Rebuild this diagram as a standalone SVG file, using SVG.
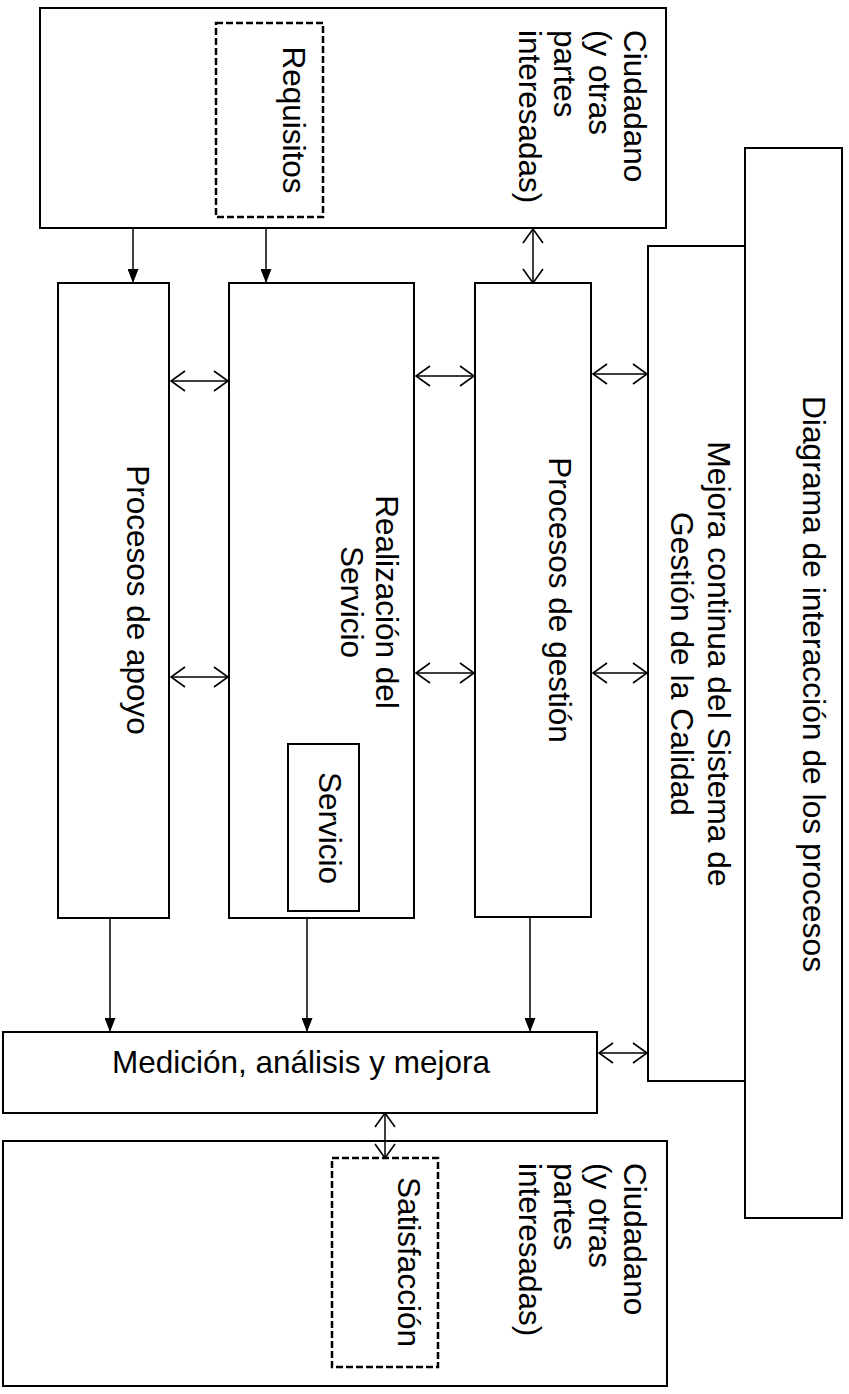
<svg xmlns="http://www.w3.org/2000/svg" width="849" height="1394" viewBox="0 0 849 1394">
  <style>
    .box { fill: #ffffff; stroke: #000000; stroke-width: 2; }
    .dash { fill: none; stroke: #000000; stroke-width: 2.5; stroke-dasharray: 7 3; }
    .lbl { font-family: "Liberation Sans", Arial, Helvetica, sans-serif; font-size: 31.5px; fill: #000000; }
    .big { font-size: 31.8px; }
    .mid { text-anchor: middle; }
    .conn { stroke: #000000; stroke-width: 1.5; fill: none; }
    .one { marker-end: url(#solid); }
    .two { marker-start: url(#open); marker-end: url(#open); }
  </style>
  <defs>
    <marker id="solid" viewBox="0 0 14 11" refX="14" refY="5.5" markerWidth="14" markerHeight="11" markerUnits="userSpaceOnUse" orient="auto">
      <path d="M0,0 L14,5.5 L0,11 Z" fill="#000000"/>
    </marker>
    <marker id="open" viewBox="-1 -1 17 22" refX="15" refY="10" markerWidth="17" markerHeight="22" markerUnits="userSpaceOnUse" orient="auto-start-reverse">
      <path d="M1,0 L15,10 L1,20" fill="none" stroke="#000000" stroke-width="1.6"/>
    </marker>
  </defs>
  <rect width="849" height="1394" fill="#ffffff"/>

  <g id="diagrama">
    <rect class="box" x="745" y="148" width="97" height="1070"/>
    <text class="lbl big mid" transform="translate(803,684) rotate(90)">Diagrama de interacción de los procesos</text>
  </g>

  <g id="mejora-continua">
    <rect class="box" x="648" y="246" width="97" height="835"/>
    <text class="lbl big mid" transform="translate(708,664) rotate(90)"><tspan x="0" dy="0">Mejora continua del Sistema de</tspan><tspan x="0" dy="37">Gestión de la Calidad</tspan></text>
  </g>

  <g id="ciudadano-top">
    <rect class="box" x="40" y="8" width="626" height="220"/>
    <text class="lbl" transform="translate(624,30) rotate(90)"><tspan x="0" dy="0">Ciudadano</tspan><tspan x="0" dy="35">(y otras</tspan><tspan x="0" dy="35">partes</tspan><tspan x="0" dy="35">interesadas)</tspan></text>
  </g>

  <g id="requisitos">
    <rect class="dash" x="216" y="23" width="107" height="194"/>
    <text class="lbl mid" transform="translate(283,120) rotate(90)">Requisitos</text>
  </g>

  <g id="procesos-apoyo">
    <rect class="box" x="58" y="283" width="111" height="635"/>
    <text class="lbl mid" transform="translate(127,600) rotate(90)">Procesos de apoyo</text>
  </g>

  <g id="realizacion">
    <rect class="box" x="229" y="283" width="185" height="635"/>
    <text class="lbl mid" transform="translate(376,602) rotate(90)"><tspan x="0" dy="0">Realización del</tspan><tspan x="0" dy="35">Servicio</tspan></text>
  </g>

  <g id="servicio">
    <rect class="box" x="288" y="744" width="71" height="167"/>
    <text class="lbl mid" transform="translate(319,828) rotate(90)">Servicio</text>
  </g>

  <g id="procesos-gestion">
    <rect class="box" x="475" y="283" width="116" height="634"/>
    <text class="lbl mid" transform="translate(549,600) rotate(90)">Procesos de gestión</text>
  </g>

  <g id="medicion">
    <rect class="box" x="3" y="1032" width="594" height="81"/>
    <text class="lbl mid" x="301" y="1073">Medición, análisis y mejora</text>
  </g>

  <g id="ciudadano-bottom">
    <rect class="box" x="3" y="1141" width="664" height="245"/>
    <text class="lbl" transform="translate(624,1163) rotate(90)"><tspan x="0" dy="0">Ciudadano</tspan><tspan x="0" dy="35">(y otras</tspan><tspan x="0" dy="35">partes</tspan><tspan x="0" dy="35">interesadas)</tspan></text>
  </g>

  <g id="satisfaccion">
    <rect class="dash" x="332" y="1158" width="106" height="209"/>
    <text class="lbl mid" transform="translate(398,1262) rotate(90)">Satisfacción</text>
  </g>

  <g id="connectors">
    <line class="conn one" x1="133" y1="228" x2="133" y2="283"/>
    <line class="conn one" x1="266" y1="228" x2="266" y2="283"/>
    <line class="conn two" x1="533" y1="229" x2="533" y2="283"/>

    <line class="conn two" x1="171" y1="381" x2="228" y2="381"/>
    <line class="conn two" x1="416" y1="376" x2="474" y2="376"/>
    <line class="conn two" x1="593" y1="374" x2="647" y2="374"/>

    <line class="conn two" x1="171" y1="677" x2="228" y2="677"/>
    <line class="conn two" x1="416" y1="673" x2="474" y2="673"/>
    <line class="conn two" x1="593" y1="673" x2="647" y2="673"/>

    <line class="conn one" x1="110" y1="918" x2="110" y2="1032"/>
    <line class="conn one" x1="307" y1="918" x2="307" y2="1032"/>
    <line class="conn one" x1="530" y1="917" x2="530" y2="1032"/>

    <line class="conn two" x1="599" y1="1053" x2="647" y2="1053"/>
    <line class="conn two" x1="385" y1="1113" x2="385" y2="1158"/>
  </g>
</svg>
